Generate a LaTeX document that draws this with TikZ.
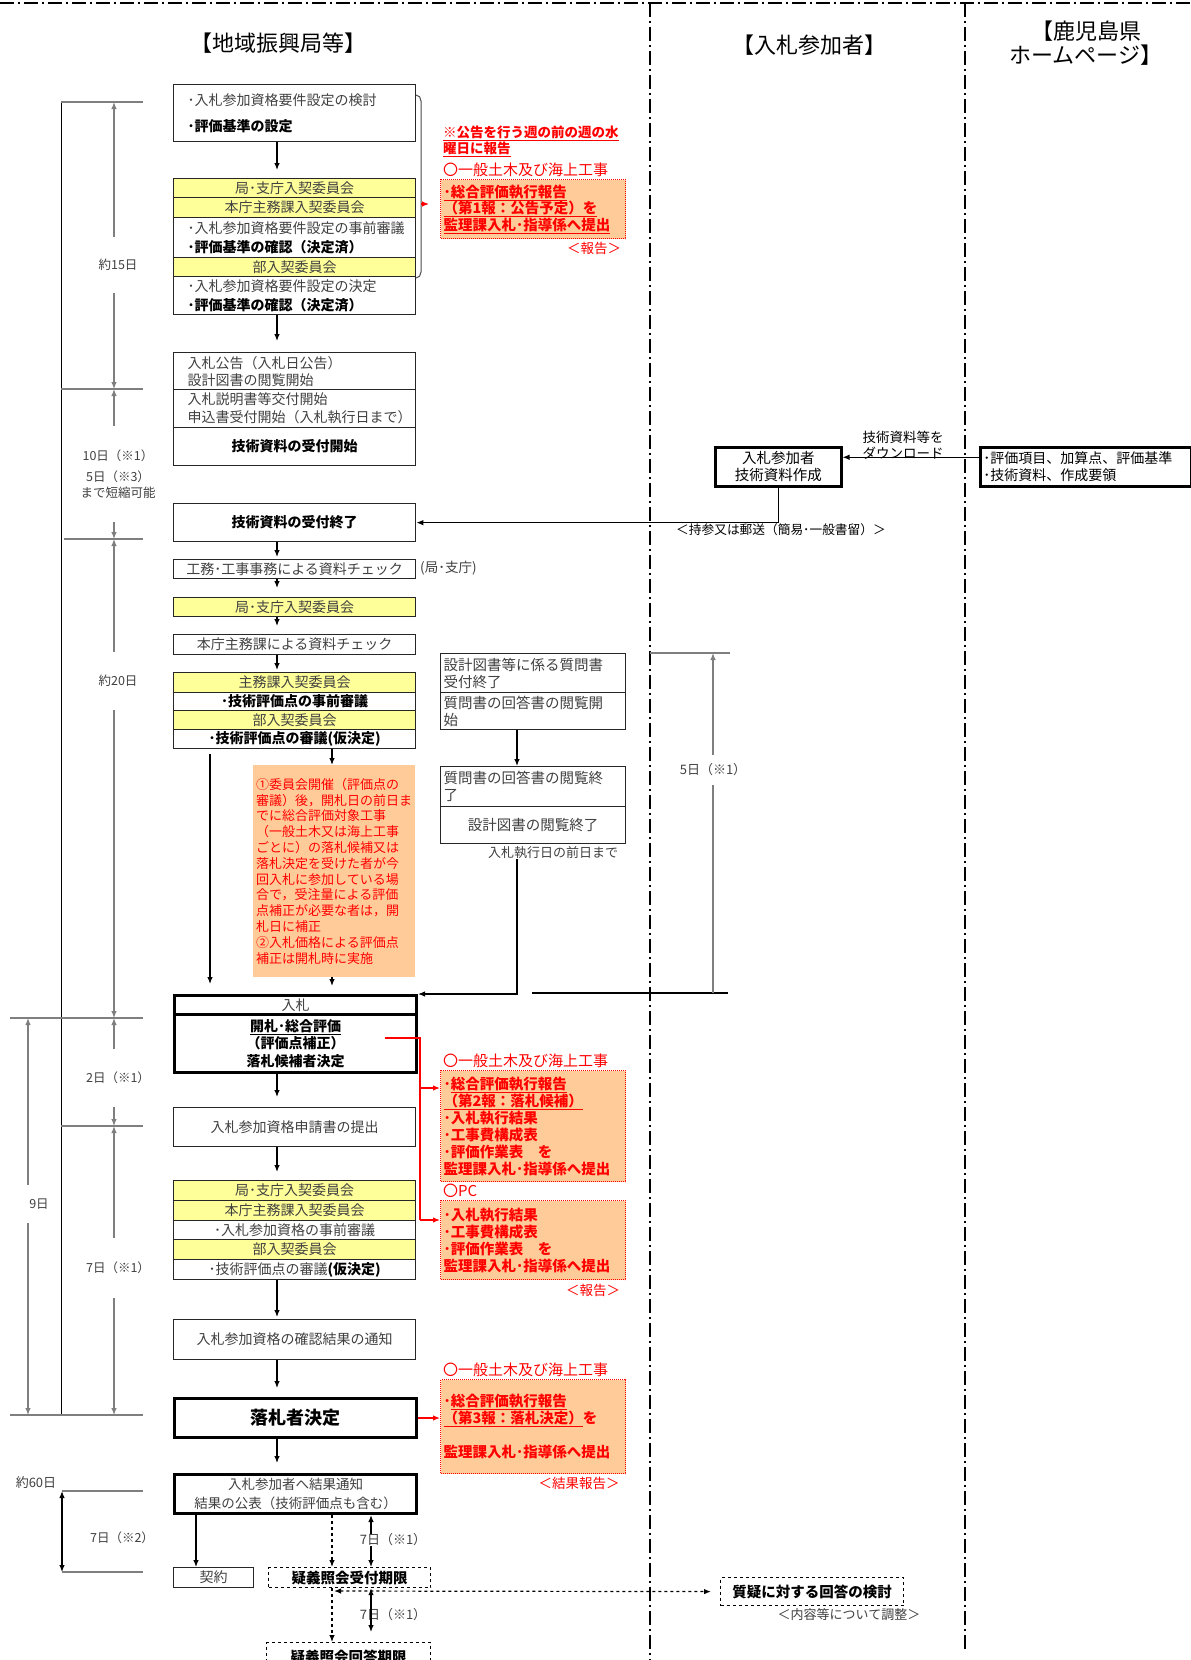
\documentclass[tikz,border=0pt]{standalone}
\usepackage{fontspec}
\setmainfont{Noto Sans CJK JP}
\usetikzlibrary{arrows.meta}

\definecolor{boxyel}{HTML}{FFFF99}
\definecolor{peach}{HTML}{FFCC99}
\definecolor{txtgray}{HTML}{404040}
\definecolor{dimgray}{HTML}{7F7F7F}
\definecolor{lred}{HTML}{FF0000}

\newcommand\fsz[2]{\fontsize{#1}{#2}\selectfont}
\newcommand\bk[1]{\textcolor{black}{\bfseries #1}}

\tikzset{
  >={Latex[length=7pt,width=5.5pt]},
  box/.style={draw=black!85, line width=1.3pt, fill=white, text=txtgray,
    minimum width=242pt, inner sep=0pt, anchor=north west, font=\fsz{14}{17}},
  ybox/.style={box, fill=boxyel},
  lbox/.style={box, align=left, text width=214pt, inner xsep=14pt},
  tbox/.style={box, draw=black, line width=3pt},
  cbox/.style={box, minimum width=185pt, text width=179pt, inner xsep=3pt,
    align=left, font=\fsz{14.5}{17}},
  dbox/.style={box, dashed, draw=black, line width=1.2pt, minimum width=162pt,
    font=\fsz{14.5}{17}},
  rbox/.style={draw=lred, densely dotted, line width=1pt, fill=peach, text=lred,
    minimum width=185pt, text width=179pt, inner xsep=3pt, inner ysep=0pt,
    align=left, anchor=north west, font=\fsz{14.5}{17}\bfseries},
  rtxt/.style={text=lred, anchor=west, inner sep=0pt, font=\fsz{15}{17}},
  dlab/.style={text=txtgray, inner sep=0pt, font=\fsz{12.5}{15}},
  dim/.style={draw=dimgray, line width=1.2pt},
  flow/.style={draw=black, line width=1.2pt, ->},
  rline/.style={draw=lred, line width=1.2pt},
  lane/.style={draw=black, line width=1.4pt,
    dash pattern=on 14pt off 4pt on 2pt off 4pt}
}

\begin{document}
\begin{tikzpicture}[x=1pt,y=-1pt]
  \fill[white] (0,0) rectangle (1191,1660);
  \useasboundingbox (0,0) rectangle (1191,1660);

  \draw[lane] (0,3) -- (1191,3);
  \draw[lane] (650,3) -- (650,1660);
  \draw[lane] (965,3) -- (965,1650);

  \node[font=\fsz{22}{26}] (tA) at (278,43) {【地域振興局等】};
  \node[font=\fsz{22}{26}] (tB) at (809,45) {【入札参加者】};
  \node[font=\fsz{22}{24}, align=center] (tC) at (1086,43) {【鹿児島県\\ホームページ】};

  \node[lbox, minimum height=57pt] (b1) at (173,84) {･入札参加資格要件設定の検討\\[9pt]\bk{･評価基準の設定}};
  \node[ybox, minimum height=19pt] (s1a) at (173,178) {局･支庁入契委員会};
  \node[ybox, minimum height=20pt] (s1b) at (173,197) {本庁主務課入契委員会};
  \node[lbox, minimum height=40pt] (s1c) at (173,217) {･入札参加資格要件設定の事前審議\\[2pt]\bk{･評価基準の確認（決定済）}};
  \node[ybox, minimum height=19pt] (s1d) at (173,257) {部入契委員会};
  \node[lbox, minimum height=38pt] (s1e) at (173,276) {･入札参加資格要件設定の決定\\[2pt]\bk{･評価基準の確認（決定済）}};

  \node[lbox, minimum height=37pt] (b3a) at (173,352) {入札公告（入札日公告）\\設計図書の閲覧開始};
  \node[lbox, minimum height=38pt] (b3b) at (173,389) {入札説明書等交付開始\\[1pt]申込書受付開始（入札執行日まで）};
  \node[box, minimum height=38pt] (b3c) at (173,427) {\bk{技術資料の受付開始}};
  \node[box, minimum height=38pt] (b4) at (173,503) {\bk{技術資料の受付終了}};
  \node[box, minimum height=19pt] (b5) at (173,559) {工務･工事事務による資料チェック};
  \node[dlab, anchor=west, font=\fsz{13.5}{16}] (b5n) at (420,568) {(局･支庁)};
  \node[ybox, minimum height=19pt] (b6) at (173,597) {局･支庁入契委員会};
  \node[box, minimum height=20pt] (b7) at (173,634) {本庁主務課による資料チェック};
  \node[ybox, minimum height=20pt] (s2a) at (173,672) {主務課入契委員会};
  \node[box, minimum height=18pt] (s2b) at (173,692) {\bk{･技術評価点の事前審議}};
  \node[ybox, minimum height=19pt] (s2c) at (173,710) {部入契委員会};
  \node[box, minimum height=19pt] (s2d) at (173,729) {\bk{･技術評価点の審議(仮決定)}};

  \node[fill=peach, text=lred, anchor=north west, minimum width=162pt, minimum height=212pt,
    text width=156pt, inner xsep=3pt, inner ysep=0pt, align=left, font=\fsz{13}{15.8}] (nt) at (253,765)
    {①委員会開催（評価点の\\審議）後，開札日の前日ま\\でに総合評価対象工事\\（一般土木又は海上工事\\ごとに）の落札候補又は\\落札決定を受けた者が今\\回入札に参加している場\\合で，受注量による評価\\点補正が必要な者は，開\\札日に補正\\②入札価格による評価点\\補正は開札時に実施};

  \node[tbox, minimum height=19pt] (b8) at (173,994) {入札};
  \node[tbox, minimum height=58pt, align=center, font=\fsz{14}{17.5}] (b9) at (173,1013)
    {\bk{\underline{開札･総合評価}}\\\bk{（評価点補正）}\\\bk{落札候補者決定}};
  \node[box, minimum height=39pt] (b10) at (173,1107) {入札参加資格申請書の提出};
  \node[ybox, minimum height=20pt] (s3a) at (173,1180) {局･支庁入契委員会};
  \node[ybox, minimum height=20pt] (s3b) at (173,1200) {本庁主務課入契委員会};
  \node[box, minimum height=19pt] (s3c) at (173,1220) {･入札参加資格の事前審議};
  \node[ybox, minimum height=20pt] (s3d) at (173,1239) {部入契委員会};
  \node[box, minimum height=20pt] (s3e) at (173,1259) {･技術評価点の審議\bk{(仮決定)}};
  \node[box, minimum height=40pt] (b11) at (173,1319) {入札参加資格の確認結果の通知};
  \node[tbox, minimum height=39pt, font=\fsz{18}{20}] (b12) at (173,1397) {\bk{落札者決定}};
  \node[tbox, minimum height=39pt, align=center, font=\fsz{13.5}{19}] (b13) at (173,1473) {入札参加者へ結果通知\\結果の公表（技術評価点も含む）};
  \node[box, minimum width=80pt, minimum height=20pt] (b14) at (173,1567) {契約};
  \node[dbox, minimum height=20pt] (b15) at (268,1567) {\bk{疑義照会受付期限}};
  \node[dbox, minimum width=164pt, minimum height=28pt] (b16) at (266,1642) {\bk{疑義照会回答期限}};

  \node[cbox, minimum height=39pt] (c1) at (440,653) {設計図書等に係る質問書\\受付終了};
  \node[cbox, minimum height=37pt] (c2) at (440,692) {質問書の回答書の閲覧開\\始};
  \node[cbox, minimum height=40pt] (c3) at (440,766) {質問書の回答書の閲覧終\\了};
  \node[box, minimum width=185pt, minimum height=37pt, font=\fsz{14.5}{17}] (c4) at (440,806) {設計図書の閲覧終了};
  \node[dlab, font=\fsz{13}{15}] (c4n) at (553,853) {入札執行日の前日まで};

  \node[rtxt, align=left, font=\fsz{13.5}{16}\bfseries] (rn) at (443,141) {\underline{※公告を行う週の前の週の水}\\\underline{曜日に報告}};
  \node[rtxt] (r1h) at (443,170) {〇一般土木及び海上工事};
  \node[rbox, minimum height=59pt, font=\fsz{14.5}{16.5}\bfseries] (r1) at (440,179)
    {\underline{･総合評価執行報告}\\\underline{（第1報：公告予定）を}\\\underline{監理課入札･指導係へ提出}};
  \node[rtxt, anchor=center, font=\fsz{13.5}{16}] (r1n) at (594,248) {＜報告＞};
  \node[rtxt] (r2h) at (443,1061) {〇一般土木及び海上工事};
  \node[rbox, minimum height=111pt] (r2) at (440,1070)
    {･\underline{総合評価執行報告}\\\underline{（第2報：落札候補）}\\･入札執行結果\\･工事費構成表\\･評価作業表　を\\監理課入札･指導係へ提出};
  \node[rtxt] (r3h) at (443,1191) {〇PC};
  \node[rbox, minimum height=79pt] (r3) at (440,1200) {･入札執行結果\\･工事費構成表\\･評価作業表　を\\監理課入札･指導係へ提出};
  \node[rtxt, anchor=center, font=\fsz{13.5}{16}] (r3n) at (593,1290) {＜報告＞};
  \node[rtxt] (r4h) at (443,1370) {〇一般土木及び海上工事};
  \node[rbox, minimum height=94pt] (r4) at (440,1379)
    {･\underline{総合評価執行報告}\\\underline{（第3報：落札決定）}を\\[17pt]監理課入札･指導係へ提出};
  \node[rtxt, anchor=center, font=\fsz{13.5}{16}] (r4n) at (579,1483) {＜結果報告＞};

  \coordinate (br) at (421,204);
  \draw[black!70, line width=1pt] (416,95) to[out=0,in=90] (421,101) -- (421,272) to[out=-90,in=0] (416,278);
  \draw[rline,->,shorten >=11pt] (br) -- (br -| r1.west);

  \node[box, draw=black, line width=2.5pt, minimum width=126pt, minimum height=39pt, align=center,
    text=black, font=\fsz{14.5}{17}] (p1) at (714,446) {入札参加者\\技術資料作成};
  \node[box, draw=black, line width=2.5pt, minimum width=211pt, minimum height=39pt, text width=205pt,
    inner xsep=3pt, align=left, text=black] (h1) at (979,446) {･評価項目、加算点、評価基準\\･技術資料、作成要領};
  \draw[flow] ([yshift=9.5pt]h1.west) -- ([yshift=9.5pt]p1.east);
  \node[font=\fsz{13.5}{16}, align=center, inner sep=0pt] (dl) at (903,445) {技術資料等を\\ダウンロード};
  \draw[flow] (p1.south) |- (b4.east);
  \node[font=\fsz{12.7}{16}, inner sep=0pt] (mail) at (781,530) {＜持参又は郵送（簡易･一般書留）＞};

  \coordinate (ax) at (277,0);
  \foreach \a/\b/\s in {b1/s1a/8, s1e/b3a/11, b4/b5/2, b5/b6/9, b6/b7/8, b7/s2a/2,
    b9/b10/10, b10/s3a/8, s3e/b11/2, b11/b12/9, b12/b13/10}
    \draw[flow, shorten >=\s pt] (\a.south -| ax) -- (\b.north -| ax);

  \coordinate (nx) at (332,0);
  \draw[flow] (s2d.south -| nx) -- (nt.north -| nx);
  \draw[flow, shorten >=8pt] (nt.south -| nx) -- (b8.north -| nx);
  \coordinate (lx) at (210,0);
  \draw[flow, shorten <=5pt, shorten >=10pt] (s2d.south -| lx) -- (b8.north -| lx);
  \coordinate (cx) at (517,0);
  \draw[flow] (c2.south -| cx) -- (c3.north -| cx);
  \draw[flow] (c4n.south -| cx) |- (b8.north east);

  \coordinate (ra) at (385,1038);
  \coordinate (rb) at (420,1088);
  \coordinate (rc) at (420,1220);
  \draw[rline] (ra) -| (rc);
  \draw[rline,->] (rb) -- (rb -| r2.west);
  \draw[rline,->] (rc) -- (rc -| r3.west);
  \draw[rline,->] (b12.east) -- (b12.east -| r4.west);

  \coordinate (kx) at (196,0);
  \draw[flow] (b13.south -| kx) -- (b14.north -| kx);
  \draw[flow, dashed] (b13.south -| nx) -- (b15.north -| nx);
  \draw[flow, dashed] (b15.south -| nx) -- (b16.north -| nx);
  \node[dlab, font=\fsz{13}{15}] (g1) at (393,1540) {7日（※1）};
  \node[dlab, font=\fsz{13}{15}] (g2) at (393,1615) {7日（※1）};
  \coordinate (gx) at (371,0);
  \draw[flow] (g1.north -| gx) -- (b13.south -| gx);
  \draw[flow] (g1.south -| gx) -- (b15.north -| gx);
  \draw[flow, <->] (b15.south -| gx) -- ([yshift=10pt]b16.north -| gx);

  \node[dbox, minimum width=183pt, minimum height=28pt] (q1) at (720,1577) {\bk{質疑に対する回答の検討}};
  \node[dlab, font=\fsz{13}{15}] (q1n) at (849,1615) {＜内容等について調整＞};
  \coordinate (qj) at (334,1591);
  \draw[flow, <->, dashed, shorten >=9pt] (qj) -- (q1.west);

  \draw[black, line width=1pt] (61,102) -- (61,1415);
  \foreach \y/\a in {102/61, 389/61, 539/64, 1018/10, 1126/61, 1415/10, 1491/62, 1572/62}
    \draw[dim] (\a,\y) -- (143,\y);
  \foreach \y in {102,389,539,1018,1126,1415}
    \coordinate (t\y) at (114,\y);
  \foreach \y in {1018,1415}
    \coordinate (u\y) at (28,\y);

  \node[dlab, minimum height=56pt] (d15) at (118,265) {約15日};
  \node[dlab, minimum height=95pt, align=center, font=\fsz{12.5}{16}] (d10) at (118,474) {10日（※1）\\[5pt]5日（※3）\\まで短縮可能};
  \node[dlab, minimum height=58pt] (d20) at (118,681) {約20日};
  \node[dlab, minimum height=57pt] (d2) at (118,1078) {2日（※1）};
  \node[dlab, minimum height=60pt] (d7) at (118,1268) {7日（※1）};
  \node[dlab, minimum height=38pt] (d9) at (39,1204) {9日};
  \draw[dim,->] (d15.north -| t102) -- (t102);
  \draw[dim,->] (d15.south -| t389) -- (t389);
  \draw[dim,->] (d10.north -| t389) -- (t389);
  \draw[dim,->] (d10.south -| t539) -- (t539);
  \draw[dim,->] (d20.north -| t539) -- (t539);
  \draw[dim,->] (d20.south -| t1018) -- (t1018);
  \draw[dim,->] (d2.north -| t1018) -- (t1018);
  \draw[dim,->] (d2.south -| t1126) -- (t1126);
  \draw[dim,->] (d7.north -| t1126) -- (t1126);
  \draw[dim,->] (d7.south -| t1415) -- (t1415);
  \draw[dim,->] (d9.north -| u1018) -- (u1018);
  \draw[dim,->] (d9.south -| u1415) -- (u1415);

  \coordinate (w1) at (62,1491);
  \coordinate (w2) at (62,1572);
  \draw[black, line width=1.2pt, <->] (w1) -- (w2);
  \node[dlab, font=\fsz{13}{15}] (d60) at (36,1483) {約60日};
  \node[dlab] (d72) at (122,1538) {7日（※2）};

  \coordinate (v1) at (713,653);
  \coordinate (v2) at (713,993);
  \draw[dim] (650,653) -- (730,653);
  \draw[black, line width=1.2pt] (532,993) -- (728,993);
  \node[dlab, minimum height=30pt, font=\fsz{13}{15}] (d5) at (713,770) {5日（※1）};
  \draw[dim,->] (d5.north) -- (v1);
  \draw[dim] (d5.south) -- (v2);
\end{tikzpicture}
\end{document}
